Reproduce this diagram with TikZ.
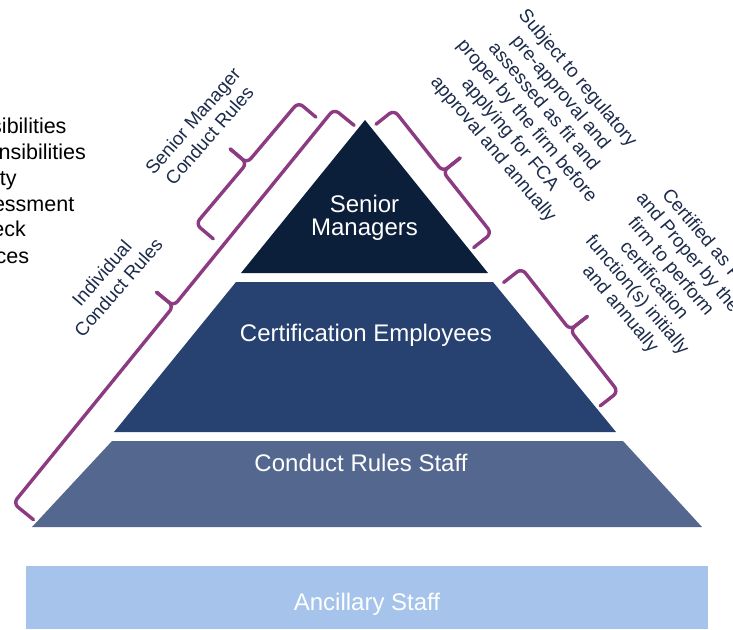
\documentclass[tikz,border=0pt]{standalone}
\usepackage{fontspec}
\setmainfont{Liberation Sans}
\usetikzlibrary{calc}

\definecolor{smnavy}{HTML}{0B1F3A}
\definecolor{certblue}{HTML}{274270}
\definecolor{crsblue}{HTML}{54688F}
\definecolor{ancblue}{HTML}{A5C3EB}
\definecolor{braceplum}{HTML}{8C3A82}
\definecolor{labelnavy}{HTML}{1C2B4B}

% Square brace with rounded corners: #1 name, #2 and #3 the two spine corners
% (walking from #2 to #3 the pyramid lies on the left), #4 depth of the end hooks
\newcommand{\plumbrace}[4]{%
  \coordinate (#1c1) at #2;
  \coordinate (#1c2) at #3;
  \coordinate (#1a) at ($(#1c1)!#4!90:(#1c2)$);
  \coordinate (#1e) at ($(#1c2)!#4!-90:(#1c1)$);
  \coordinate (#1m) at ($(#1c1)!0.5!(#1c2)$);
  \coordinate (#1t) at ($(#1m)!22pt!-90:(#1c2)$);
  \draw[bracket] (#1a) -- (#1c1) -- (#1m) -- (#1t);
  \draw[bracket] (#1t) -- (#1m) -- (#1c2) -- (#1e);
}

\begin{document}
\begin{tikzpicture}[x=1pt,y=-1pt,
  tierlabel/.style={text=white, font=\fontsize{24}{23.5}\selectfont, inner sep=0pt, align=center},
  sidelabel/.style={text=labelnavy, font=\fontsize{18.8}{22}\selectfont, inner sep=0pt, align=center},
  listitem/.style={text=black, font=\fontsize{21.5}{25}\selectfont, inner sep=0pt, anchor=base east},
  bracket/.style={draw=braceplum, line width=3.4pt, rounded corners=6pt, line cap=round, line join=round}
]
\useasboundingbox (0,0) rectangle (733,629);
\begin{scope}
\clip (0,0) rectangle (733,629);

% pyramid tiers
\fill[smnavy]   (365,120) -- (488,273) -- (241,273) -- cycle;
\fill[certblue] (236,282) -- (493,282) -- (616,432) -- (114,432) -- cycle;
\fill[crsblue]  (112,441) -- (623,441) -- (702,527) -- (32,527) -- cycle;
\fill[ancblue]  (26,566) rectangle (708,629);

% tier labels
\node[tierlabel] (sm) at (364.5,218) {Senior\\Managers};
\node[tierlabel, anchor=base] (ce) at (366,341.7) {Certification Employees};
\node[tierlabel, anchor=base] (crs) at (361,471) {Conduct Rules Staff};
\node[tierlabel, anchor=base] (anc) at (367,610) {Ancillary Staff};

% braces along the pyramid sides
\plumbrace{bsm}{(298.3,102.3)}{(195.7,224)}{23pt}
\plumbrace{bic}{(334,109)}{(13.3,503.3)}{26pt}
\plumbrace{bsr}{(491.7,233.3)}{(394,110)}{23pt}
\plumbrace{bce}{(618.3,391.7)}{(521.7,268.3)}{23pt}

% side labels
\node[sidelabel, rotate=49] (smcr) at (201,128) {Senior Manager\\Conduct Rules};
\node[sidelabel, rotate=49] (icr) at (110,280) {Individual\\Conduct Rules};
\node[sidelabel, rotate=-50] (smreq) at (535,114) {Subject to regulatory\\pre-approval and\\assessed as fit and\\proper by the firm before\\applying for FCA\\approval and annually};
\node[sidelabel, rotate=-50] (cereq) at (662,274) {Certified as Fit\\and Proper by the\\firm to perform\\certification\\function(s) initially\\and annually};

% list at the left edge
\node[listitem] (l1) at (66.7,133.3) {sibilities};
\node[listitem] (l2) at (86,159.3) {nsibilities};
\node[listitem] (l3) at (16.7,185) {ty};
\node[listitem] (l4) at (74.5,211) {essment};
\node[listitem] (l5) at (26,236.7) {eck};
\node[listitem] (l6) at (29.3,263) {ces};
\end{scope}
\end{tikzpicture}
\end{document}
